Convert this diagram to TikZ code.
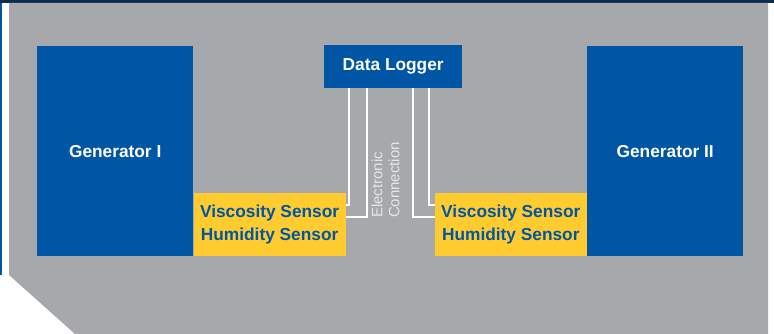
\documentclass[tikz,border=0pt]{standalone}
\usepackage{fontspec}
\setmainfont{Liberation Sans}
\usepackage{xcolor}
\definecolor{dlgray}{HTML}{A7A8AB}
\definecolor{dlblue}{HTML}{0055A5}
\definecolor{dlyellow}{HTML}{FFCB2E}
\definecolor{dlnavy}{HTML}{0C2C4A}
\definecolor{dllabel}{HTML}{E6E6E8}
\usepackage{tikz}
\usetikzlibrary{positioning}

\begin{document}
\begin{tikzpicture}[x=1pt,y=-1pt,
  genbox/.style={fill=dlblue,text=white,font=\fontsize{17.3}{20}\selectfont\bfseries,
    minimum width=156pt,minimum height=210pt,inner sep=0pt,anchor=north west},
  sensorbox/.style={fill=dlyellow,text=dlblue,font=\fontsize{17.3}{22.5}\selectfont\bfseries,
    align=center,minimum width=152pt,minimum height=63pt,inner sep=0pt},
  loggerbox/.style={fill=dlblue,text=white,font=\fontsize{17.3}{20}\selectfont\bfseries,
    minimum width=138pt,minimum height=43pt,inner sep=0pt,anchor=north west},
  conlabel/.style={text=dllabel,font=\fontsize{15}{17}\selectfont,align=left,inner sep=0pt},
  wire/.style={draw=white,line width=2pt}]
\useasboundingbox (0,0) rectangle (774,334);
\fill[dlnavy] (0,0) rectangle (774,3);
\fill[dlblue] (0,3) rectangle (1.5,275);
\fill[dlgray] (9,3) -- (768,3) -- (768,334) -- (75,334) -- (9,275) -- cycle;

\node[genbox] (gen1) at (37,46) {Generator I};
\node[genbox] (gen2) at (587,46) {Generator II};
\node[loggerbox] (logger) at (324,45) {Data Logger};
\node[sensorbox,anchor=south west] (sens1) at (gen1.south east) {Viscosity Sensor\\Humidity Sensor};
\node[sensorbox,anchor=south east] (sens2) at (gen2.south west) {Viscosity Sensor\\Humidity Sensor};

\draw[wire] ([xshift=25pt]logger.south west) |- ([yshift=-12pt]sens1.north east);
\draw[wire] ([xshift=43pt]logger.south west) |- ([yshift=-24pt]sens1.north east);
\draw[wire] ([xshift=-49pt]logger.south east) |- ([yshift=-24pt]sens2.north west);
\draw[wire] ([xshift=-33pt]logger.south east) |- ([yshift=-12pt]sens2.north west);

\node[conlabel,rotate=90] (conn) at (385.5,180) {Electronic\\Connection};
\end{tikzpicture}
\end{document}
